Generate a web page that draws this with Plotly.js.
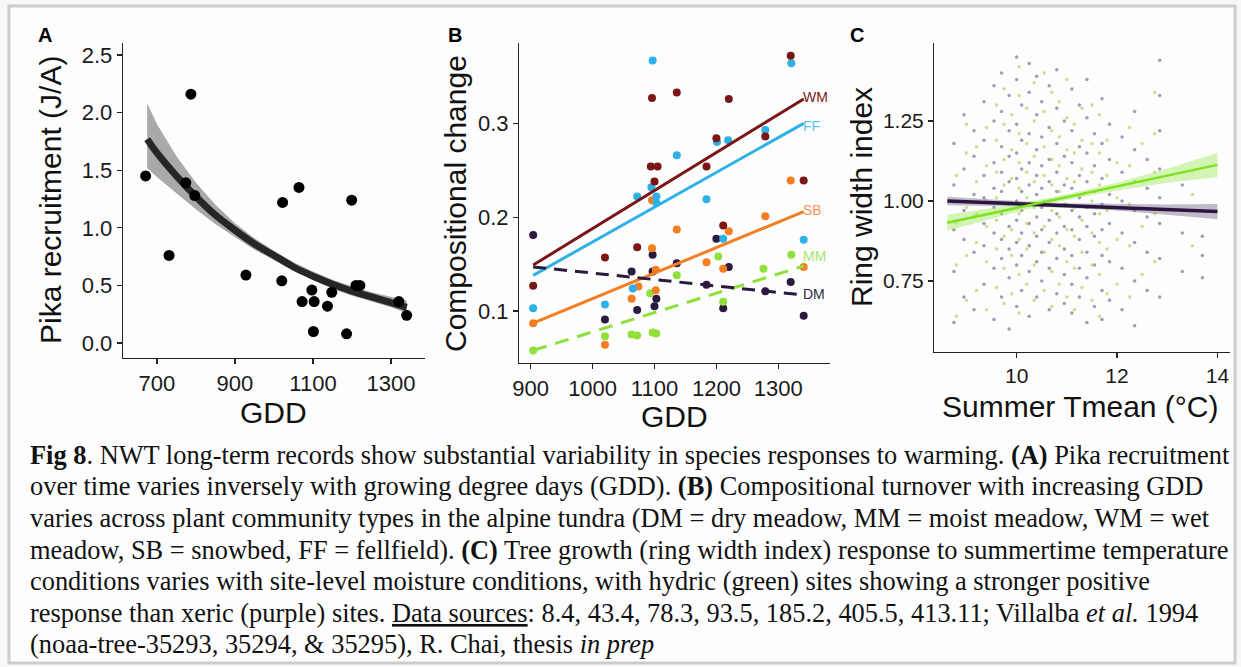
<!DOCTYPE html>
<html><head><meta charset="utf-8">
<script src="https://cdn.plot.ly/plotly-3.0.1.min.js"></script>
<style>html,body{margin:0;padding:0;background:#f7f7f7}#chart{width:1241px;height:667px}</style>
</head><body><div id="chart"></div>
<script>
// ---------- Panel A: pika recruitment vs GDD ----------
const pikaGDD     = [671, 731, 774, 787, 797, 928, 1020, 1022, 1064, 1072, 1097, 1101, 1103, 1137, 1148, 1186, 1199, 1210, 1220, 1320, 1340];
const pikaRecruit = [1.45, 0.76, 1.39, 2.16, 1.28, 0.59, 0.54, 1.22, 1.35, 0.36, 0.46, 0.10, 0.36, 0.32, 0.44, 0.08, 1.24, 0.50, 0.50, 0.36, 0.24];
const pikaFitX    = [675, 700, 750, 800, 850, 900, 950, 1000, 1050, 1100, 1150, 1200, 1250, 1300, 1340];
const pikaFitY    = [1.77, 1.65, 1.45, 1.27, 1.11, 0.98, 0.86, 0.76, 0.66, 0.58, 0.51, 0.45, 0.40, 0.35, 0.31];
const pikaFitHi   = [2.08, 1.90, 1.62, 1.39, 1.20, 1.04, 0.91, 0.80, 0.70, 0.62, 0.55, 0.49, 0.44, 0.40, 0.37];
const pikaFitLo   = [1.52, 1.44, 1.30, 1.16, 1.03, 0.92, 0.81, 0.72, 0.63, 0.55, 0.47, 0.41, 0.36, 0.31, 0.26];

// ---------- Panel B: compositional change by community ----------
const wmGDD = [904, 1020, 1072, 1096, 1094, 1105, 1100, 1136, 1184, 1200, 1211, 1220, 1279, 1320, 1341];
const wmVal = [0.127, 0.157, 0.168, 0.327, 0.254, 0.254, 0.238, 0.333, 0.254, 0.284, 0.191, 0.326, 0.286, 0.372, 0.239];
const ffGDD = [904, 1020, 1065, 1072, 1097, 1095, 1103, 1103, 1136, 1184, 1201, 1219, 1211, 1279, 1321, 1341];
const ffVal = [0.103, 0.107, 0.124, 0.222, 0.367, 0.232, 0.222, 0.215, 0.266, 0.219, 0.280, 0.282, 0.177, 0.293, 0.364, 0.176];
const sbGDD = [904, 1020, 1063, 1074, 1096, 1096, 1102, 1102, 1136, 1184, 1211, 1220, 1279, 1320, 1341];
const sbVal = [0.087, 0.064, 0.113, 0.126, 0.167, 0.218, 0.144, 0.122, 0.187, 0.152, 0.145, 0.185, 0.201, 0.239, 0.147];
const mmGDD = [904, 1020, 1063, 1072, 1097, 1103, 1093, 1136, 1203, 1211, 1276, 1321];
const mmVal = [0.058, 0.073, 0.075, 0.074, 0.077, 0.076, 0.119, 0.138, 0.158, 0.110, 0.145, 0.160];
const dmGDD = [904, 1020, 1063, 1072, 1097, 1097, 1103, 1100, 1136, 1184, 1200, 1211, 1220, 1279, 1320, 1341];
const dmVal = [0.181, 0.091, 0.142, 0.101, 0.160, 0.142, 0.113, 0.105, 0.151, 0.128, 0.177, 0.103, 0.147, 0.121, 0.131, 0.095];
const fitEndsGDD = [904, 1341];
const wmFit = [0.149, 0.326];
const ffFit = [0.138, 0.300];
const sbFit = [0.087, 0.206];
const mmFit = [0.058, 0.148];
const dmFit = [0.147, 0.117];
const communities = ['WM', 'FF', 'SB', 'MM', 'DM'];
const labelVal = [0.328, 0.297, 0.208, 0.159, 0.118];

// ---------- Panel C: ring width index vs summer Tmean ----------
const xericTemp = [8.75, 8.95, 9.15, 9.35, 9.55, 9.7, 9.85, 10.0, 10.1, 10.25, 10.4, 10.5, 10.65, 10.8, 10.95, 11.1, 11.25, 11.4, 11.55, 11.7, 11.85, 12.1, 12.35, 12.6, 12.85, 13.3, 13.7];
const xericRW = [
  [0.62, 0.78, 0.91, 1.05, 1.18],
  [0.70, 0.88, 0.97, 1.10, 1.27],
  [0.66, 0.84, 0.95, 1.02, 1.14, 1.22],
  [0.74, 0.86, 0.93, 1.01, 1.08, 1.19, 1.31],
  [0.63, 0.79, 0.90, 0.98, 1.04, 1.12, 1.25, 1.36],
  [0.70, 0.82, 0.88, 0.96, 1.03, 1.09, 1.17, 1.28, 1.40],
  [0.60, 0.76, 0.85, 0.92, 0.99, 1.06, 1.14, 1.22, 1.33],
  [0.67, 0.80, 0.87, 0.94, 1.00, 1.07, 1.15, 1.24, 1.38, 1.45],
  [0.72, 0.83, 0.90, 0.97, 1.03, 1.10, 1.19, 1.30],
  [0.64, 0.78, 0.86, 0.93, 0.99, 1.05, 1.12, 1.21, 1.34, 1.43],
  [0.70, 0.81, 0.89, 0.95, 1.02, 1.08, 1.16, 1.27, 1.39],
  [0.75, 0.84, 0.91, 0.98, 1.04, 1.11, 1.20, 1.31],
  [0.66, 0.79, 0.87, 0.94, 1.00, 1.06, 1.13, 1.23, 1.36],
  [0.71, 0.82, 0.90, 0.96, 1.03, 1.09, 1.18, 1.29, 1.41],
  [0.68, 0.77, 0.85, 0.92, 0.99, 1.05, 1.14, 1.25],
  [0.65, 0.74, 0.83, 0.91, 0.97, 1.04, 1.12, 1.22, 1.35],
  [0.70, 0.79, 0.88, 0.95, 1.01, 1.08, 1.17, 1.30],
  [0.62, 0.76, 0.84, 0.92, 0.98, 1.06, 1.15, 1.26, 1.38],
  [0.67, 0.80, 0.89, 0.96, 1.03, 1.11, 1.21],
  [0.63, 0.72, 0.83, 0.91, 0.99, 1.07, 1.18, 1.32],
  [0.69, 0.81, 0.93, 1.02, 1.13, 1.24],
  [0.66, 0.79, 0.90, 1.00, 1.09, 1.20],
  [0.61, 0.75, 0.87, 0.97, 1.06, 1.16, 1.28],
  [0.72, 0.84, 0.95, 1.04, 1.13],
  [0.70, 0.82, 0.93, 1.01, 1.10, 1.22, 1.33, 1.44],
  [0.78, 0.90, 1.05],
  [0.76, 0.83, 0.89]
];
const hydricTemp = [8.8, 9.0, 9.2, 9.4, 9.6, 9.75, 9.9, 10.05, 10.2, 10.35, 10.55, 10.7, 10.85, 11.0, 11.15, 11.3, 11.5, 11.65, 11.8, 12.0, 12.25, 12.5, 12.75, 13.5];
const hydricRW = [
  [0.64, 0.80, 0.93, 1.08],
  [0.69, 0.83, 0.98, 1.15, 1.24],
  [0.72, 0.87, 0.96, 1.06, 1.17],
  [0.66, 0.81, 0.92, 1.00, 1.11, 1.23],
  [0.73, 0.85, 0.94, 1.01, 1.09, 1.19, 1.30],
  [0.68, 0.79, 0.89, 0.97, 1.05, 1.13, 1.24, 1.35],
  [0.71, 0.83, 0.91, 0.99, 1.07, 1.16, 1.27],
  [0.65, 0.77, 0.88, 0.96, 1.04, 1.12, 1.21, 1.33, 1.42],
  [0.74, 0.85, 0.93, 1.01, 1.09, 1.18, 1.29],
  [0.69, 0.80, 0.90, 0.98, 1.06, 1.14, 1.25, 1.37],
  [0.72, 0.84, 0.92, 1.00, 1.08, 1.17, 1.28, 1.40],
  [0.67, 0.78, 0.88, 0.97, 1.05, 1.13, 1.22, 1.34],
  [0.74, 0.86, 0.95, 1.03, 1.11, 1.20, 1.31],
  [0.70, 0.81, 0.91, 0.99, 1.07, 1.16, 1.26, 1.38],
  [0.66, 0.79, 0.89, 0.98, 1.06, 1.15, 1.24],
  [0.73, 0.84, 0.94, 1.02, 1.10, 1.19, 1.29],
  [0.69, 0.80, 0.90, 1.00, 1.09, 1.18, 1.30],
  [0.64, 0.77, 0.87, 0.96, 1.05, 1.15, 1.27],
  [0.71, 0.85, 0.97, 1.08, 1.19],
  [0.74, 0.88, 1.01, 1.12],
  [0.70, 0.86, 0.99, 1.11, 1.23],
  [0.77, 0.92, 1.06, 1.18],
  [0.81, 0.96, 1.09, 1.21, 1.34],
  [0.86, 1.02]
];
const tFitX      = [8.62, 10, 11, 12, 13, 14];
const xericFit   = [1.000, 0.992, 0.986, 0.980, 0.973, 0.967];
const xericHi    = [1.013, 1.000, 0.993, 0.990, 0.989, 0.991];
const xericLo    = [0.987, 0.984, 0.979, 0.970, 0.957, 0.943];
const hydricFit  = [0.932, 0.978, 1.012, 1.045, 1.079, 1.113];
const hydricHi   = [0.957, 0.990, 1.021, 1.057, 1.101, 1.151];
const hydricLo   = [0.907, 0.966, 1.003, 1.033, 1.057, 1.075];

// ---------- Caption ----------
const captionLines = [
  '<b>Fig 8</b>. NWT long-term records show substantial variability in species responses to warming. <b>(A)</b> Pika recruitment',
  'over time varies inversely with growing degree days (GDD). <b>(B)</b> Compositional turnover with increasing GDD',
  'varies across plant community types in the alpine tundra (DM = dry meadow, MM = moist meadow, WM = wet',
  'meadow, SB = snowbed, FF = fellfield). <b>(C)</b> Tree growth (ring width index) response to summertime temperature',
  'conditions varies with site-level moisture conditions, with hydric (green) sites showing a stronger positive',
  'response than xeric (purple) sites. <u>Data sources</u>: 8.4, 43.4, 78.3, 93.5, 185.2, 405.5, 413.11; Villalba <i>et al.</i> 1994',
  '(noaa-tree-35293, 35294, &amp; 35295), R. Chai, thesis <i>in prep</i>'
];

// ---------- helpers ----------
const W = 1241, H = 667;
const px = v => v / W;
const py = v => 1 - v / H;
const SANS = 'Liberation Sans, Arial, sans-serif';
const SERIF = 'Liberation Serif, Times New Roman, serif';

function flatten(temps, groups) {
  const xs = [], ys = [];
  groups.forEach((g, i) => g.forEach(v => { xs.push(temps[i]); ys.push(v); }));
  return {xs, ys};
}
const xer = flatten(xericTemp, xericRW);
const hyd = flatten(hydricTemp, hydricRW);

const colB = {WM: '#7a1616', FF: '#2db1e6', SB: '#f57d22', MM: '#8fe03a', DM: '#2b1a40'};
const labelCol = {WM: '#7a1616', FF: '#5cc3ee', SB: '#f5955a', MM: '#a6e46a', DM: '#2b2b3a'};
const bData = {WM: [wmGDD, wmVal, wmFit], FF: [ffGDD, ffVal, ffFit], SB: [sbGDD, sbVal, sbFit], MM: [mmGDD, mmVal, mmFit], DM: [dmGDD, dmVal, dmFit]};

const traces = [];
// Panel A
traces.push({x: pikaFitX, y: pikaFitLo, xaxis: 'x', yaxis: 'y', mode: 'lines', line: {width: 0, color: 'rgba(0,0,0,0)'}, hoverinfo: 'skip'});
traces.push({x: pikaFitX, y: pikaFitHi, xaxis: 'x', yaxis: 'y', mode: 'lines', fill: 'tonexty', fillcolor: 'rgba(140,140,140,0.75)', line: {width: 0, color: 'rgba(0,0,0,0)'}, hoverinfo: 'skip'});
traces.push({x: pikaFitX, y: pikaFitY, xaxis: 'x', yaxis: 'y', mode: 'lines', line: {width: 7, color: '#262626', shape: 'spline'}});
traces.push({x: pikaGDD, y: pikaRecruit, xaxis: 'x', yaxis: 'y', mode: 'markers', marker: {size: 11, color: '#000'}});

// Panel B
['DM', 'MM', 'SB', 'FF', 'WM'].forEach(k => {
  const [gx, gy] = bData[k];
  traces.push({x: gx, y: gy, xaxis: 'x2', yaxis: 'y2', mode: 'markers', marker: {size: 8, color: colB[k]}});
});
['WM', 'FF', 'SB', 'MM', 'DM'].forEach(k => {
  const fit = bData[k][2];
  const dash = k === 'DM' ? '13px,8px' : (k === 'MM' ? '14px,9px' : 'solid');
  traces.push({x: fitEndsGDD, y: fit, xaxis: 'x2', yaxis: 'y2', mode: 'lines', line: {width: 3, color: colB[k], dash: dash}});
});

// Panel C
traces.push({x: xer.xs, y: xer.ys, xaxis: 'x3', yaxis: 'y3', mode: 'markers', marker: {size: 3.5, color: 'rgba(70,60,110,0.5)'}});
traces.push({x: hyd.xs, y: hyd.ys, xaxis: 'x3', yaxis: 'y3', mode: 'markers', marker: {size: 3.5, color: 'rgba(160,210,70,0.6)'}});
traces.push({x: tFitX, y: xericLo, xaxis: 'x3', yaxis: 'y3', mode: 'lines', line: {width: 0, color: 'rgba(0,0,0,0)'}, hoverinfo: 'skip'});
traces.push({x: tFitX, y: xericHi, xaxis: 'x3', yaxis: 'y3', mode: 'lines', fill: 'tonexty', fillcolor: 'rgba(120,105,140,0.45)', line: {width: 0, color: 'rgba(0,0,0,0)'}, hoverinfo: 'skip'});
traces.push({x: tFitX, y: hydricLo, xaxis: 'x3', yaxis: 'y3', mode: 'lines', line: {width: 0, color: 'rgba(0,0,0,0)'}, hoverinfo: 'skip'});
traces.push({x: tFitX, y: hydricHi, xaxis: 'x3', yaxis: 'y3', mode: 'lines', fill: 'tonexty', fillcolor: 'rgba(170,235,110,0.5)', line: {width: 0, color: 'rgba(0,0,0,0)'}, hoverinfo: 'skip'});
traces.push({x: tFitX, y: xericFit, xaxis: 'x3', yaxis: 'y3', mode: 'lines', line: {width: 3.5, color: '#2a1640'}});
traces.push({x: tFitX, y: hydricFit, xaxis: 'x3', yaxis: 'y3', mode: 'lines', line: {width: 2.5, color: '#7ee21e'}});

const axisBase = {
  showline: true, linecolor: '#222', linewidth: 1.3, mirror: false,
  ticks: 'outside', ticklen: 5, tickwidth: 1.2, tickcolor: '#222',
  showgrid: false, zeroline: false, fixedrange: true,
  tickfont: {family: SANS, size: 22, color: '#1a1a1a'}
};
const ax = o => Object.assign({}, axisBase, o);

const annotations = [];
const ann = (x, y, text, o) => annotations.push(Object.assign({xref: 'paper', yref: 'paper', x: px(x), y: py(y), text: text, showarrow: false, xanchor: 'center', yanchor: 'middle', borderpad: 0}, o));
// Panel letters
ann(45, 35, '<b>A</b>', {font: {family: SANS, size: 20, color: '#000'}});
ann(455, 35, '<b>B</b>', {font: {family: SANS, size: 20, color: '#000'}});
ann(857, 35, '<b>C</b>', {font: {family: SANS, size: 20, color: '#000'}});
// Axis titles
const tf = {family: SANS, size: 30, color: '#111'};
ann(273, 412, 'GDD', {font: tf});
ann(50, 200, 'Pika recruitment (J/A)', {font: tf, textangle: -90});
ann(675, 416, 'GDD', {font: tf});
ann(455, 204, 'Compositional change', {font: tf, textangle: -90});
ann(1080, 406, 'Summer Tmean (°C)', {font: tf});
ann(861, 197, 'Ring width index', {font: tf, textangle: -90});
// Community labels
communities.forEach((k, i) => annotations.push({xref: 'x2', yref: 'y2', x: fitEndsGDD[1], y: labelVal[i], text: k, showarrow: false, xanchor: 'left', yanchor: 'middle', xshift: -3, font: {family: SANS, size: 14, color: labelCol[k]}}));
// Caption
captionLines.forEach((t, i) => ann(29, 463 + 31.5 * i - 8, t, {xanchor: 'left', yanchor: 'middle', font: {family: SERIF, size: 26.4, color: '#111'}}));

const layout = {
  width: W, height: H, margin: {l: 0, r: 0, t: 0, b: 0},
  paper_bgcolor: '#f7f7f7', plot_bgcolor: 'rgba(0,0,0,0)',
  showlegend: false,
  xaxis: ax({domain: [px(123), px(425)], range: [613, 1387], tickvals: [700, 900, 1100, 1300], anchor: 'y'}),
  yaxis: ax({domain: [py(358), py(43)], range: [-0.13, 2.604], tickvals: [0, 0.5, 1, 1.5, 2, 2.5], tickformat: '.1f', anchor: 'x'}),
  xaxis2: ax({domain: [px(519.3), px(830)], range: [881.6, 1383.5], tickvals: [900, 1000, 1100, 1200, 1300], anchor: 'y2'}),
  yaxis2: ax({domain: [py(363), py(43.3)], range: [0.0446, 0.3853], tickvals: [0.1, 0.2, 0.3], tickformat: '.1f', anchor: 'x2'}),
  xaxis3: ax({domain: [px(934.3), px(1230)], range: [8.36, 14.25], tickvals: [10, 12, 14], anchor: 'y3', tickfont: {family: SANS, size: 21, color: '#1a1a1a'}}),
  yaxis3: ax({domain: [py(351.7), py(43.3)], range: [0.529, 1.493], tickvals: [0.75, 1.0, 1.25], tickformat: '.2f', anchor: 'x3', tickfont: {family: SANS, size: 21, color: '#1a1a1a'}}),
  shapes: [
    {type: 'rect', xref: 'paper', yref: 'paper', x0: px(9), x1: px(1235), y0: py(663), y1: py(6), line: {color: '#cccccc', width: 3}, fillcolor: '#fdfdfd', layer: 'below'}
  ],
  annotations: annotations
};

Plotly.newPlot('chart', traces, layout, {displayModeBar: false, staticPlot: true});
</script></body></html>
